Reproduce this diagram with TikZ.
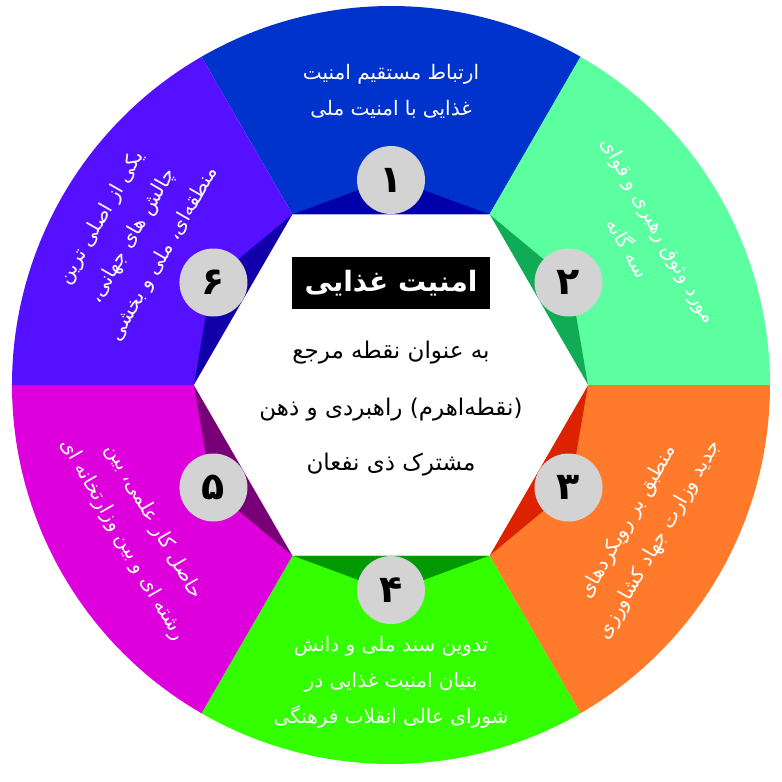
\documentclass[tikz,border=0pt]{standalone}
\usepackage{fontspec}
\newfontfamily\arabicfont[Script=Arabic]{DejaVu Sans}
\TeXXeTstate=1
\newcommand\fa[1]{\beginR #1\endR}
\definecolor{cA}{HTML}{0033CC}\definecolor{dA}{HTML}{0000AA}
\definecolor{cB}{HTML}{5BFF9F}\definecolor{dB}{HTML}{11AA55}
\definecolor{cC}{HTML}{FF7A2A}\definecolor{dC}{HTML}{DD2200}
\definecolor{cD}{HTML}{33FF00}\definecolor{dD}{HTML}{009900}
\definecolor{cE}{HTML}{DD00DD}\definecolor{dE}{HTML}{770077}
\definecolor{cF}{HTML}{5511FF}\definecolor{dF}{HTML}{1100AA}
\definecolor{numgray}{HTML}{D3D3D3}
\begin{document}
\begin{tikzpicture}[x=1pt,y=1pt,
  segtext/.style={text=white,font=\arabicfont\fontsize{20}{36}\selectfont,align=center,inner sep=0pt},
  numc/.style={circle,fill=numgray,minimum size=68pt,inner sep=0pt,font=\arabicfont\bfseries\fontsize{38}{38}\selectfont},
  ctext/.style={font=\arabicfont\fontsize{23}{26}\selectfont}]
\useasboundingbox (-391,-397) rectangle (391,385);
\foreach \a/\c/\d/\n/\m in {90/cA/dA/۱/n1,30/cB/dB/۲/n2,-30/cC/dC/۳/n3,-90/cD/dD/۴/n4,-150/cE/dE/۵/n5,150/cF/dF/۶/n6}{
  \fill[\c] (0,0) -- (\a-30:379) arc[start angle=\a-30,end angle=\a+30,radius=379] -- cycle;
  \fill[\d] (\a-30:197) -- (\a:207) -- (\a+30:197) -- cycle;
  \node[numc] (\m) at (\a:205) {\fa{\n}};
}
\fill[white] (0:197) -- (60:197) -- (120:197) -- (180:197) -- (240:197) -- (300:197) -- cycle;
\node[fill=black,text=white,minimum width=198pt,minimum height=52pt,font=\arabicfont\bfseries\fontsize{28}{28}\selectfont] (title) at (0,102) {\fa{امنیت غذایی}};
\node[ctext] (l1) at (0,32) {\fa{به عنوان نقطه مرجع}};
\node[ctext] (l2) at (0,-25) {\fa{(نقطه‌اهرم) راهبردی و ذهن}};
\node[ctext] (l3) at (0,-80) {\fa{مشترک ذی نفعان}};
\node[segtext] (t1) at (0,294) {\fa{ارتباط مستقیم امنیت}\\\fa{غذایی با امنیت ملی}};
\node[segtext,rotate=-60] (t2) at (30:292) {\fa{مورد وثوق رهبری و قوای}\\\fa{سه گانه}};
\node[segtext,rotate=60] (t3) at (-30:292) {\fa{منطبق بر رویکردهای}\\\fa{جدید وزارت جهاد کشاورزی}};
\node[segtext] (t4) at (0,-297) {\fa{تدوین سند ملی و دانش}\\\fa{بنیان امنیت غذایی در}\\\fa{شورای عالی انقلاب فرهنگی}};
\node[segtext,rotate=-60] (t5) at (-150:292) {\fa{حاصل کار علمی، بین}\\\fa{رشته ای و بین وزارتخانه ای}};
\node[segtext,rotate=60] (t6) at (150:298) {\fa{یکی از اصلی ترین}\\\fa{چالش های جهانی،}\\\fa{منطقه‌ای، ملی و بخشی}};
\end{tikzpicture}
\end{document}
